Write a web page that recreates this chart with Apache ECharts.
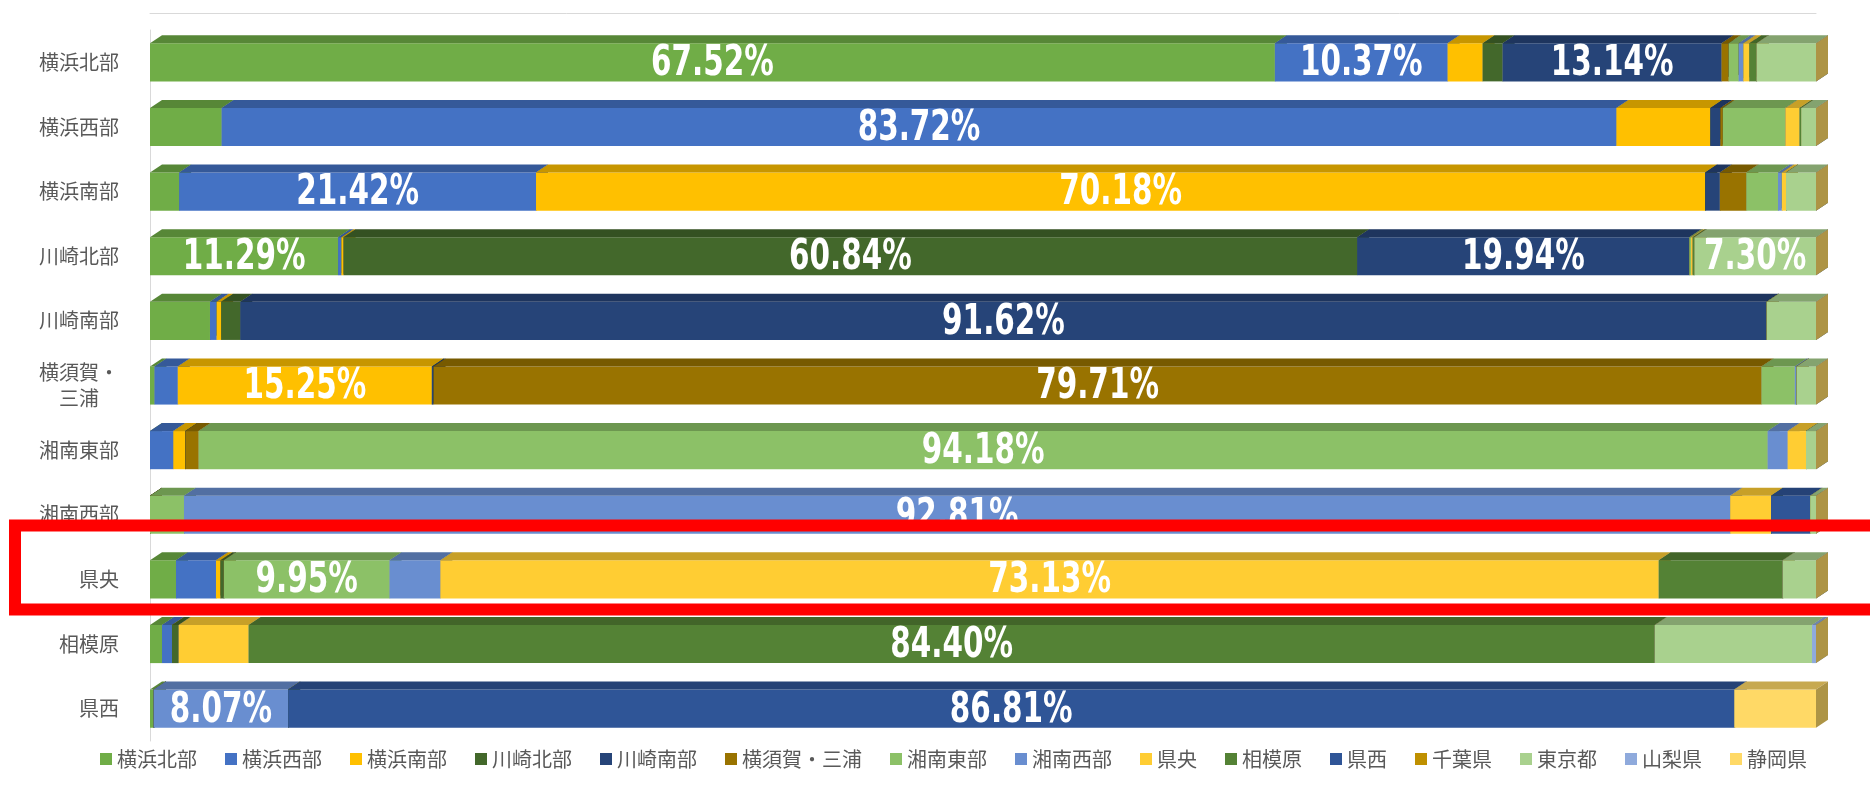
<!DOCTYPE html>
<html>
<head>
<meta charset="utf-8">
<script src="https://cdn.jsdelivr.net/npm/echarts@6/dist/echarts.min.js"></script>
<style>
  html, body { margin: 0; padding: 0; background: #fff; }
  #chart { width: 1870px; height: 785px; }
</style>
</head>
<body>
<div id="chart"></div>
<script>
// 地域（行）
const categories = ['横浜北部', '横浜西部', '横浜南部', '川崎北部', '川崎南部', '横須賀・三浦',
  '湘南東部', '湘南西部', '県央', '相模原', '県西'];

// 系列名（凡例の順）
const seriesNames = ['横浜北部', '横浜西部', '横浜南部', '川崎北部', '川崎南部', '横須賀・三浦',
  '湘南東部', '湘南西部', '県央', '相模原', '県西', '千葉県', '東京都', '山梨県', '静岡県'];

// 系列ごとの割合(%)  行の順は categories と同じ
const yokohamaKita   = [67.52, 4.30, 1.75, 11.29, 3.60, 0.27, 0, 0, 1.56, 0.72, 0.22];
const yokohamaNishi  = [10.37, 83.72, 21.42, 0.20, 0.40, 1.40, 1.40, 0, 2.40, 0.60, 0];
const yokohamaMinami = [2.10, 5.64, 70.18, 0.13, 0.27, 15.25, 0.72, 0, 0.27, 0, 0];
const kawasakiKita   = [1.20, 0, 0, 60.84, 1.15, 0, 0, 0, 0.20, 0.40, 0];
const kawasakiMinami = [13.14, 0.60, 0.88, 19.94, 91.62, 0.10, 0, 0, 0, 0, 0];
const yokosukaMiura  = [0.43, 0.15, 1.59, 0, 0, 79.71, 0.80, 0, 0, 0, 0];
const shonanHigashi  = [0.60, 3.75, 1.90, 0.10, 0, 2.00, 94.18, 2.04, 9.95, 0, 0];
const shonanNishi    = [0.28, 0, 0.23, 0, 0, 0.10, 1.20, 92.81, 3.05, 0, 8.07];
const kenou          = [0.36, 0.85, 0.25, 0.10, 0, 0, 1.10, 2.45, 73.13, 4.20, 0];
const sagamihara     = [0.43, 0.10, 0, 0.10, 0, 0, 0, 0, 7.44, 84.40, 0];
const kensei         = [0, 0, 0, 0, 0, 0, 0, 2.35, 0, 0, 86.81];
const chiba          = [0, 0, 0, 0, 0, 0, 0, 0, 0, 0, 0];
const tokyo          = [3.57, 0.89, 1.80, 7.30, 2.96, 1.17, 0.60, 0.35, 2.00, 9.44, 0];
const yamanashi      = [0, 0, 0, 0, 0, 0, 0, 0, 0, 0.24, 0];
const shizuoka       = [0, 0, 0, 0, 0, 0, 0, 0, 0, 0, 4.90];

const seriesValues = [yokohamaKita, yokohamaNishi, yokohamaMinami, kawasakiKita, kawasakiMinami,
  yokosukaMiura, shonanHigashi, shonanNishi, kenou, sagamihara, kensei, chiba, tokyo, yamanashi, shizuoka];

// ラベルを出さない区間 [系列, 地域]
const unlabelled = [['東京都', '相模原'], ['相模原', '県央']];
const labelMin = 7;

const colors = ['#70AD47', '#4472C4', '#FFC000', '#43682B', '#264478', '#997300',
  '#8CC167', '#698ED0', '#FFCD33', '#548235', '#2F5597', '#BF9000', '#A9D18E', '#8FAADC', '#FFD966'];

const DX = 12; // 奥行き（横）
const DY = 8;  // 奥行き（縦）

function shade(hex, k) {
  const n = parseInt(hex.slice(1), 16);
  const r = Math.round(((n >> 16) & 255) * k);
  const g = Math.round(((n >> 8) & 255) * k);
  const b = Math.round((n & 255) * k);
  return 'rgb(' + r + ',' + g + ',' + b + ')';
}

function renderItem(params, api) {
  const c = api.value(0);
  const start = api.value(1);
  const end = api.value(2);
  const v = api.value(3);
  const a = api.coord([start, c]);
  const b = api.coord([end, c]);
  const h = api.size([0, 1])[1] * 0.59;
  const top = a[1] - h / 2;
  const bot = a[1] + h / 2;
  const x0 = a[0];
  const x1 = b[0];
  const color = colors[params.seriesIndex];
  const children = [
    { type: 'rect', shape: { x: x0, y: top, width: x1 - x0, height: h }, style: { fill: color } },
    { type: 'polygon', shape: { points: [[x0, top], [x0 + DX, top - DY], [x1 + DX, top - DY], [x1, top]] },
      style: { fill: shade(color, 0.78) } },
    { type: 'polygon', shape: { points: [[x1, top], [x1 + DX, top - DY], [x1 + DX, bot - DY], [x1, bot]] },
      style: { fill: shade(color, 0.68) } }
  ];
  const sName = seriesNames[params.seriesIndex];
  const hidden = unlabelled.some(u => u[0] === sName && u[1] === categories[c]);
  if (v >= labelMin && !hidden) {
    children.push({
      type: 'text',
      x: (x0 + x1) / 2,
      y: (top + bot) / 2 + 2,
      scaleX: 0.78,
      z2: 10,
      style: {
        text: v.toFixed(2) + '%',
        fill: '#ffffff',
        fontSize: 42,
        fontWeight: 'bold',
        fontFamily: '"DejaVu Sans Condensed", sans-serif',
        align: 'center',
        verticalAlign: 'middle'
      }
    });
  }
  return { type: 'group', children };
}

const cum = categories.map(() => 0);
const series = seriesNames.map((name, s) => {
  const data = seriesValues[s].map((v, c) => {
    const start = cum[c];
    cum[c] += v;
    return [c, start, cum[c], v];
  });
  return {
    name: name,
    type: 'custom',
    renderItem: renderItem,
    encode: { x: [1, 2], y: 0 },
    itemStyle: { color: colors[s] },
    data: data
  };
});

const chart = echarts.init(document.getElementById('chart'));
chart.setOption({
  animation: false,
  color: colors,
  grid: { left: 150, right: 54, top: 30, bottom: 44 },
  legend: {
    data: seriesNames,
    left: 95,
    top: 744,
    icon: 'rect',
    itemWidth: 12,
    itemHeight: 12,
    itemGap: 28,
    textStyle: { fontSize: 20, color: '#595959', fontFamily: 'Noto Sans CJK JP' }
  },
  xAxis: {
    type: 'value',
    min: 0,
    max: 100,
    position: 'top',
    offset: 17,
    axisLine: { show: true, lineStyle: { color: '#d9d9d9' } },
    axisTick: { show: false },
    axisLabel: { show: false },
    splitLine: { show: false }
  },
  yAxis: {
    type: 'category',
    data: categories,
    inverse: true,
    offset: 10,
    axisLine: { show: true, lineStyle: { color: '#d9d9d9' } },
    axisTick: { show: false },
    axisLabel: {
      margin: 21,
      fontSize: 20,
      color: '#595959',
      fontFamily: 'Noto Sans CJK JP',
      formatter: v => v === '横須賀・三浦' ? '{c|横須賀・}\n{c|三浦}' : v,
      rich: { c: { width: 80, align: 'center', fontSize: 20, lineHeight: 26, color: '#595959', fontFamily: 'Noto Sans CJK JP' } }
    }
  },
  series: series
});

// 県央の行を囲む赤枠
const cy = chart.convertToPixel({ yAxisIndex: 0 }, '県央');
chart.setOption({
  graphic: [{
    type: 'rect',
    shape: { x: 15, y: cy - 54, width: 1900, height: 84 },
    style: { fill: 'none', stroke: '#FF0000', lineWidth: 12 },
    z: 100
  }]
});
</script>
</body>
</html>
